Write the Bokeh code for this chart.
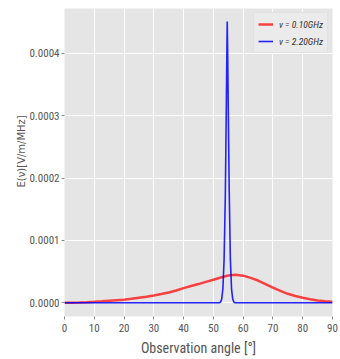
from bokeh.plotting import figure
from bokeh.models import FixedTicker, NumeralTickFormatter, Range1d, Legend, LegendItem
from bokeh.embed import file_html
from bokeh.resources import INLINE

# Observation angle [deg] and field E(nu) [V/m/MHz]
red_angle = [0, 2.5, 5, 7.5, 10, 12.5, 15, 17.5, 20, 22.5, 25, 27.5, 30, 32.5, 35, 37.5,
             40, 42.5, 45, 47.5, 50, 52.5, 55, 57.5, 60, 62.5, 65, 67.5, 70, 72.5, 75,
             77.5, 80, 82.5, 85, 87.5, 90]
red_value = [0.0, 0.02e-5, 0.05e-5, 0.10e-5, 0.16e-5, 0.24e-5, 0.33e-5, 0.42e-5, 0.50e-5,
             0.65e-5, 0.82e-5, 0.98e-5, 1.17e-5, 1.40e-5, 1.65e-5, 1.98e-5, 2.35e-5,
             2.68e-5, 3.00e-5, 3.35e-5, 3.70e-5, 4.05e-5, 4.37e-5, 4.48e-5, 4.35e-5,
             4.00e-5, 3.57e-5, 3.00e-5, 2.42e-5, 1.90e-5, 1.44e-5, 1.08e-5, 0.80e-5,
             0.58e-5, 0.38e-5, 0.25e-5, 0.15e-5]

blue_angle = [0, 50, 52.0, 52.4, 52.8, 53.2, 53.6, 54.0, 54.3, 54.5, 54.65, 54.8, 55.0,
              55.3, 55.7, 56.1, 56.5, 56.9, 57.3, 60, 90]
blue_value = [0.0, 0.0, 0.0, 0.1e-5, 0.6e-5, 2.3e-5, 7.0e-5, 17.0e-5, 29.5e-5, 39.0e-5,
              45.1e-5, 40.0e-5, 31.0e-5, 18.5e-5, 7.0e-5, 2.2e-5, 0.6e-5, 0.1e-5, 0.0,
              0.0, 0.0]

labels = ["\u03bd = 0.10GHz", "\u03bd = 2.20GHz"]
x_ticks = [0, 10, 20, 30, 40, 50, 60, 70, 80, 90]
y_ticks = [0.0, 0.0001, 0.0002, 0.0003, 0.0004]

NARROW = "Roboto Condensed"

p = figure(width=340, height=359, output_backend="svg", toolbar_location=None,
           x_range=Range1d(0, 90), y_range=Range1d(-2.2e-5, 4.72e-4),
           min_border_left=64, min_border_right=8, min_border_top=8, min_border_bottom=43)
p.background_fill_color = "#e5e5e5"
p.border_fill_color = "white"
p.outline_line_color = None

r1 = p.line(red_angle, red_value, line_color="red", line_alpha=0.72, line_width=2.5)
r2 = p.line(blue_angle, blue_value, line_color="blue", line_alpha=0.85, line_width=1.6)

for ax in (p.xaxis[0], p.yaxis[0]):
    ax.axis_line_color = None
    ax.major_tick_line_color = "#888888"
    ax.major_tick_in = 0
    ax.major_tick_out = 3
    ax.minor_tick_line_color = None
    ax.major_label_text_color = "#555555"
    ax.major_label_text_font = NARROW
    ax.major_label_text_font_size = "11px"
    ax.axis_label_text_color = "#555555"
    ax.axis_label_text_font_style = "normal"

p.xaxis.ticker = FixedTicker(ticks=x_ticks)
p.yaxis.ticker = FixedTicker(ticks=y_ticks)
p.yaxis.formatter = NumeralTickFormatter(format="0.0000")
p.xaxis.major_label_standoff = 4
p.yaxis.major_label_standoff = 2

p.xaxis.axis_label = "Observation angle [\u00b0]"
p.xaxis.axis_label_text_font = NARROW
p.xaxis.axis_label_text_font_size = "14px"
p.xaxis.axis_label_standoff = 5

p.yaxis.axis_label = "\u00a0" * 7 + "E(\u03bd)[V/m/MHz]"
p.yaxis.axis_label_text_font = "DejaVu Sans"
p.yaxis.axis_label_text_font_size = "10px"
p.yaxis.axis_label_standoff = -1

p.grid.grid_line_color = "white"
p.grid.grid_line_width = 1
p.xgrid.ticker = FixedTicker(ticks=x_ticks)
p.ygrid.ticker = FixedTicker(ticks=y_ticks)

legend = Legend(items=[LegendItem(label=labels[0], renderers=[r1]),
                       LegendItem(label=labels[1], renderers=[r2])],
                location="top_right", margin=4, padding=4, spacing=3,
                glyph_width=15, glyph_height=14, label_height=14, label_standoff=6,
                label_text_font=NARROW, label_text_font_style="italic",
                label_text_font_size="9.5px", label_text_color="#333333",
                background_fill_color="#ebebeb", background_fill_alpha=1.0,
                border_line_color="#d8d8d8", border_line_width=1)
p.add_layout(legend)

open("out.html", "w").write(file_html(p, INLINE))
